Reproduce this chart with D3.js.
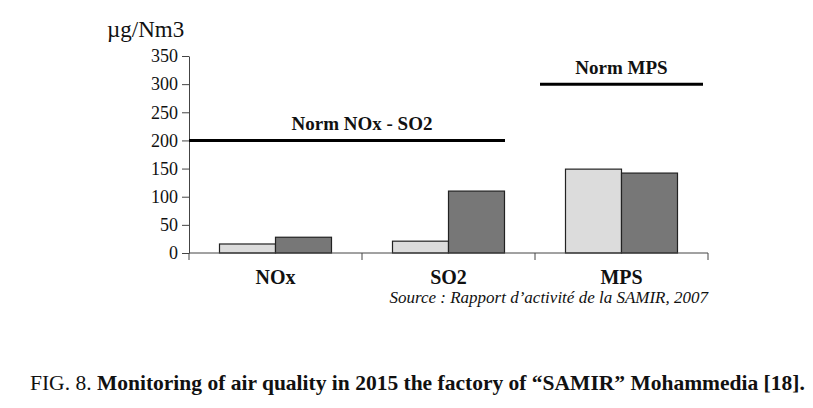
<!DOCTYPE html>
<html>
<head>
<meta charset="utf-8">
<script src="https://cdn.jsdelivr.net/npm/d3@7"></script>
<style>
  body { margin: 0; background: #fff; }
  text { font-family: "Liberation Serif", "DejaVu Serif", serif; fill: #111; }
</style>
</head>
<body>
<svg id="chart"></svg>
<script>
var width = 813;
var height = 408;

var categories = ["NOx", "SO2", "MPS"];
var seriesLight = [16, 21, 149];
var seriesDark = [28, 110, 142];
var yTicks = [0, 50, 100, 150, 200, 250, 300, 350];
var norms = [
  { label: "Norm NOx - SO2", value: 200, from: 0, to: 1 },
  { label: "Norm MPS", value: 300, from: 2, to: 2 }
];

var margin = { left: 189, right: 105, top: 56, bottom: 155 };

var svg = d3.select("#chart")
  .attr("width", width)
  .attr("height", height);

var xScale = d3.scaleBand()
  .domain(categories)
  .range([margin.left, width - margin.right]);

var yScale = d3.scaleLinear()
  .domain([0, 350])
  .range([height - margin.bottom, margin.top]);

var barW = 56;

// bars
var groups = svg.selectAll("g.cat")
  .data(categories)
  .enter()
  .append("g")
    .attr("class", "cat");

groups.append("rect")
  .attr("x", d => xScale(d) + xScale.bandwidth() / 2 - barW)
  .attr("y", (d, i) => yScale(seriesLight[i]))
  .attr("width", barW)
  .attr("height", (d, i) => yScale(0) - yScale(seriesLight[i]))
  .attr("fill", "#dcdcdc")
  .attr("stroke", "#222")
  .attr("stroke-width", 1.2);

groups.append("rect")
  .attr("x", d => xScale(d) + xScale.bandwidth() / 2)
  .attr("y", (d, i) => yScale(seriesDark[i]))
  .attr("width", barW)
  .attr("height", (d, i) => yScale(0) - yScale(seriesDark[i]))
  .attr("fill", "#777777")
  .attr("stroke", "#222")
  .attr("stroke-width", 1.2);

// y axis
var yAxis = d3.axisLeft(yScale)
  .tickValues(yTicks)
  .tickSize(7)
  .tickSizeOuter(0)
  .tickPadding(4);

var gy = svg.append("g")
  .attr("transform", "translate(" + margin.left + ",0)")
  .call(yAxis);
gy.select(".domain").attr("stroke", "#444");
gy.selectAll(".tick line").attr("stroke", "#444");
gy.selectAll(".tick text")
  .attr("font-size", 18)
  .attr("fill", "#111");

// x axis: ticks at band boundaries
var boundaries = categories.map(d => xScale(d)).concat([width - margin.right]);
var gx = svg.append("g");
gx.append("line")
  .attr("x1", margin.left)
  .attr("x2", width - margin.right)
  .attr("y1", yScale(0))
  .attr("y2", yScale(0))
  .attr("stroke", "#444");
gx.selectAll("line.bt")
  .data(boundaries)
  .enter()
  .append("line")
    .attr("class", "bt")
    .attr("x1", d => d)
    .attr("x2", d => d)
    .attr("y1", yScale(0))
    .attr("y2", yScale(0) + 7)
    .attr("stroke", "#444");
gx.selectAll("text")
  .data(categories)
  .enter()
  .append("text")
    .attr("x", d => xScale(d) + xScale.bandwidth() / 2)
    .attr("y", yScale(0) + 31)
    .attr("text-anchor", "middle")
    .attr("font-size", 20)
    .attr("font-weight", "bold")
    .text(d => d);

// norm lines
norms.forEach(function (n) {
  var x1 = n.from === 0 ? margin.left : xScale(categories[n.from]) + 5;
  var x2 = n.to === 2 ? width - margin.right - 5 : xScale(categories[n.to]) + xScale.bandwidth() - 30;
  svg.append("line")
    .attr("x1", x1)
    .attr("x2", x2)
    .attr("y1", yScale(n.value))
    .attr("y2", yScale(n.value))
    .attr("stroke", "#000")
    .attr("stroke-width", 3);
  svg.append("text")
    .attr("x", n.from === 0 ? xScale(categories[1]) : (x1 + x2) / 2)
    .attr("y", yScale(n.value) - 10)
    .attr("text-anchor", "middle")
    .attr("font-size", 19)
    .attr("font-weight", "bold")
    .text(n.label);
});

// unit label
svg.append("text")
  .attr("x", 107)
  .attr("y", 37)
  .attr("font-size", 23)
  .text("\u00b5g/Nm3");

// source
svg.append("text")
  .attr("x", width - margin.right)
  .attr("y", 303)
  .attr("text-anchor", "end")
  .attr("font-size", 17)
  .attr("font-style", "italic")
  .text("Source : Rapport d\u2019activit\u00e9 de la SAMIR, 2007");

// caption
var cap = svg.append("text")
  .attr("x", 30)
  .attr("y", 390)
  .attr("font-size", 21.5);
cap.append("tspan").text("FIG. 8. ");
cap.append("tspan")
  .attr("font-weight", "bold")
  .text("Monitoring of air quality in 2015 the factory of \u201cSAMIR\u201d Mohammedia [18].");
</script>
</body>
</html>
